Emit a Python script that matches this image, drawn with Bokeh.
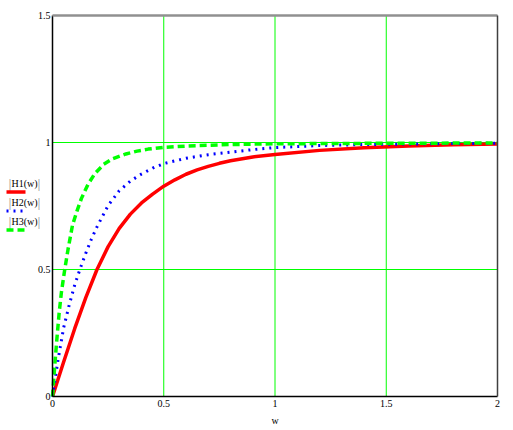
from bokeh.plotting import figure
from bokeh.models import Range1d, FixedTicker, Label, Arrow
from bokeh.embed import file_html
from bokeh.resources import INLINE

# ---- data ----
w1 = [0, 0.05, 0.1, 0.15, 0.2, 0.25, 0.3, 0.35, 0.4, 0.45, 0.5, 0.55, 0.6, 0.65, 0.7, 0.75, 0.8, 0.9, 1.0, 1.2, 1.4, 1.6, 1.8, 2.0]
h1 = [0, 0.136, 0.268, 0.39, 0.50, 0.59, 0.662, 0.718, 0.762, 0.797, 0.828, 0.853, 0.875, 0.892, 0.906, 0.918, 0.928, 0.943, 0.953, 0.969, 0.979, 0.986, 0.991, 0.994]

w2 = [0, 0.025, 0.05, 0.075, 0.1, 0.125, 0.15, 0.175, 0.2, 0.25, 0.3, 0.35, 0.4, 0.45, 0.5, 0.6, 0.7, 0.8, 0.9, 1.0, 1.2, 1.4, 1.6, 1.8, 2.0]
h2 = [0, 0.145, 0.27, 0.36, 0.44, 0.505, 0.565, 0.62, 0.668, 0.752, 0.81, 0.848, 0.876, 0.899, 0.917, 0.938, 0.952, 0.962, 0.972, 0.98, 0.988, 0.992, 0.994, 0.996, 0.997]

w3 = [0, 0.01, 0.02, 0.03, 0.04, 0.055, 0.07, 0.09, 0.11, 0.13, 0.16, 0.19, 0.23, 0.27, 0.33, 0.38, 0.43, 0.5, 0.6, 0.7, 0.8, 1.0, 1.5, 2.0]
h3 = [0, 0.12, 0.23, 0.33, 0.41, 0.50, 0.58, 0.675, 0.73, 0.78, 0.836, 0.877, 0.914, 0.936, 0.955, 0.966, 0.974, 0.981, 0.986, 0.989, 0.992, 0.995, 0.997, 0.998]

x_ticks = [0, 0.5, 1, 1.5, 2]
y_ticks = [0, 0.5, 1, 1.5]
x_grid = [0.5, 1, 1.5]
y_grid = [0.5, 1]
x_tick_labels = {0: "0", 0.5: "0.5", 1: "1", 1.5: "1.5", 2: "2"}
y_tick_labels = {0: "0", 0.5: "0.5", 1: "1", 1.5: "1.5"}
x_min, x_max = 0, 2
y_min, y_max = 0, 1.5
x_title = "w"
legend_names = ["H1(w)", "H2(w)", "H3(w)"]
colors = ["#ff0000", "#0000ff", "#00ff00"]
GRID = "#00ff00"

FONT = "Liberation Serif"

W, H = 505, 428
# the plot area: x=0 at px 52, x=2 at px 497; y=0 at px 396, y=1 at px 142
X0_PX, X2_PX = 52.0, 497.0
Y0_PX, Y1_PX = 396.0, 142.0
def px_x(px):
    return (px - X0_PX) * 2.0 / (X2_PX - X0_PX)

def px_y(py):
    return (Y0_PX - py) / (Y0_PX - Y1_PX)

p = figure(width=W, height=H, output_backend="svg", toolbar_location=None,
           x_range=Range1d(px_x(0), px_x(W)), y_range=Range1d(px_y(H), px_y(0)),
           min_border_left=0, min_border_right=0, min_border_top=0, min_border_bottom=0)
p.outline_line_color = None
p.background_fill_color = "white"
p.border_fill_color = "white"
p.xgrid.visible = False
p.ygrid.visible = False

# grid lines (only inside the plot area)
p.segment(x0=x_grid, y0=[y_min] * len(x_grid), x1=x_grid, y1=[y_max] * len(x_grid),
          line_color=GRID, line_width=1)
p.segment(x0=[x_min] * len(y_grid), y0=y_grid, x1=[x_max] * len(y_grid), y1=y_grid,
          line_color=GRID, line_width=1)

# axes placed at x=0 / y=0
p.xaxis.ticker = FixedTicker(ticks=x_ticks)
p.yaxis.ticker = FixedTicker(ticks=y_ticks)
p.xaxis.major_label_overrides = x_tick_labels
p.yaxis.major_label_overrides = y_tick_labels
p.xaxis.bounds = (x_min, x_max)
p.yaxis.bounds = (y_min, y_max)
p.xaxis.fixed_location = y_min
p.yaxis.fixed_location = x_min
for ax in (p.xaxis, p.yaxis):
    ax.axis_line_color = "black"
    ax.axis_line_width = 1.5
    ax.major_tick_out = 0
    ax.major_tick_in = 0
    ax.minor_tick_out = 0
    ax.minor_tick_in = 0
    ax.major_label_text_font = FONT
    ax.major_label_text_font_size = "10px"
    ax.major_label_text_color = "black"
p.xaxis.major_label_standoff = 3
p.yaxis.major_label_standoff = 2

p.add_layout(Label(x=(x_min + x_max) / 2, y=px_y(420), text=x_title, text_font=FONT,
                   text_font_size="10px", text_color="black",
                   text_align="center", text_baseline="middle"))

# top and right borders of the plot area
p.add_layout(Arrow(end=None, x_start=x_min, y_start=y_max, x_end=x_max, y_end=y_max,
                   line_color="#909090", line_width=2.5))
p.add_layout(Arrow(end=None, x_start=x_max, y_start=y_min, x_end=x_max, y_end=y_max,
                   line_color="#404040", line_width=1.5))

# curves
p.line(w1, h1, line_color=colors[0], line_width=3.5)
p.line(w2, h2, line_color=colors[1], line_width=3, line_dash="2 5")
p.line(w3, h3, line_color=colors[2], line_width=3.5, line_dash="7 4")

# legend on the left of the y axis: |name| above a line sample
text_y = [183, 202, 221]
line_y = [191.5, 210.5, 229.5]
dashes = ["solid", "2 5", "7 4"]
widths = [3.5, 3, 3.5]
for name, col, ty, ly, dash, lw in zip(legend_names, colors, text_y, line_y, dashes, widths):
    p.add_layout(Label(x=px_x(9.5), y=px_y(ty), text="|", text_font=FONT,
                       text_font_size="12px", text_color="#808080",
                       text_align="center", text_baseline="middle"))
    p.add_layout(Label(x=px_x(11), y=px_y(ty), text=name, text_font=FONT,
                       text_font_size="10px", text_color="black", text_baseline="middle"))
    p.add_layout(Label(x=px_x(38.5), y=px_y(ty), text="|", text_font=FONT,
                       text_font_size="12px", text_color="#808080",
                       text_align="center", text_baseline="middle"))
    p.add_layout(Arrow(end=None, x_start=px_x(6), y_start=px_y(ly), x_end=px_x(25), y_end=px_y(ly),
                       line_color=col, line_width=lw, line_dash=dash))

open("out.html", "w").write(file_html(p, INLINE))
